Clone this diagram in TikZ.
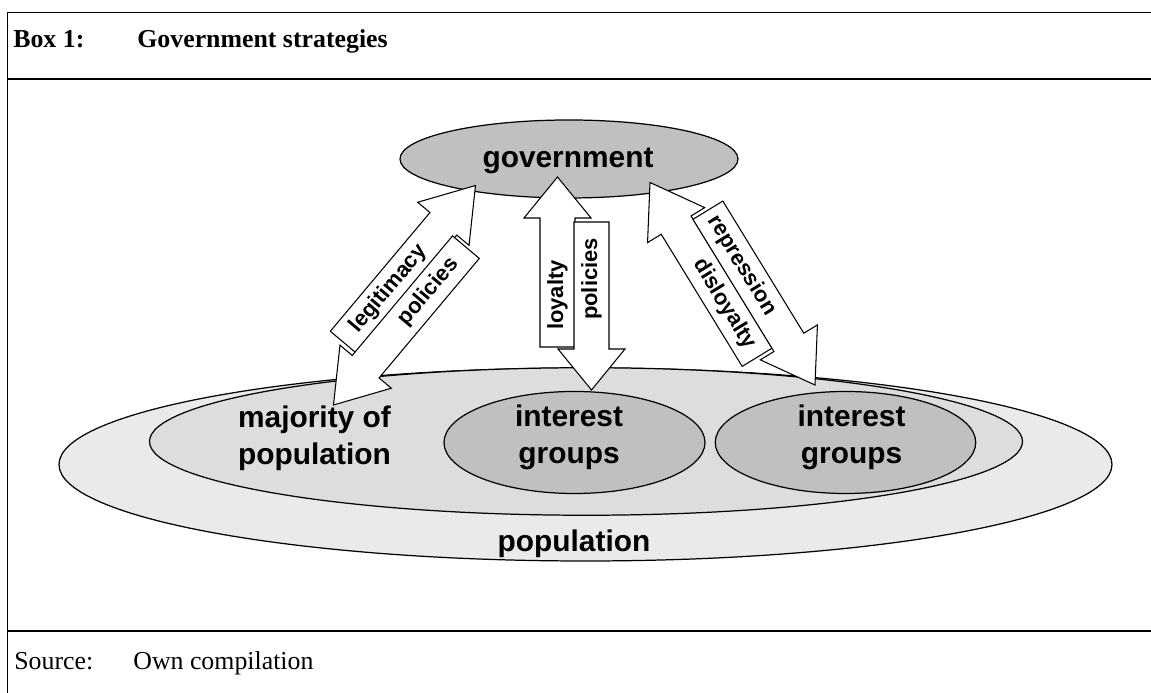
\documentclass[tikz,border=0pt]{standalone}
\usepackage{fontspec}
\setmainfont{Liberation Serif}
\setsansfont{Liberation Sans}
\usetikzlibrary{shapes.geometric}

\definecolor{popgray}{RGB}{234,234,234}
\definecolor{majgray}{RGB}{221,221,221}
\definecolor{grpgray}{RGB}{192,192,192}

\tikzset{
  frameline/.style={line width=1.1pt},
  blob/.style={draw,ellipse,inner sep=0pt,line width=0.7pt},
  bigtext/.style={font=\sffamily\bfseries\fontsize{17}{20.9}\selectfont,align=center,inner sep=0pt},
  blockarrow/.style={draw,fill=white,line width=0.6pt},
  arrowlabel/.style={font=\sffamily\bfseries\fontsize{12.5}{15}\selectfont,inner sep=0pt},
  boxtext/.style={font=\fontsize{14.7}{17}\selectfont,anchor=base west,inner sep=0pt}
}

% fat arrow: name, tip, direction, length, head length, label distance, label angle, text
\newcommand{\blockarrow}[8]{%
  \begin{scope}[shift={#2},rotate=#3]
    \draw[blockarrow] (0,0) -- (-#5,0.67) -- (-#5,0.35) -- (-#4,0.35)
      -- (-#4,-0.35) -- (-#5,-0.35) -- (-#5,-0.67) -- cycle;
    \node[arrowlabel,rotate=#7] (#1) at (-#6,0) {#8};
  \end{scope}}

\begin{document}
\begin{tikzpicture}
  \useasboundingbox (0,0) rectangle (23.02,13.86);

  % box frame
  \draw[frameline] (0.15,0) -- (0.15,13.61) -- (23.02,13.61);
  \draw[frameline] (0.15,12.28) -- (23.02,12.28);
  \draw[frameline] (0.15,1.24) -- (23.02,1.24);
  \node[boxtext,font=\bfseries\fontsize{14.7}{17}\selectfont] (boxno) at (0.26,12.91) {Box 1:};
  \node[boxtext,font=\bfseries\fontsize{14.7}{17}\selectfont] (boxtitle) at (2.74,12.91) {Government strategies};
  \node[boxtext] (srclabel) at (0.28,0.46) {Source:};
  \node[boxtext] (srctext) at (2.66,0.46) {Own compilation};

  % population and its parts
  \node[blob,fill=popgray,minimum width=21.06cm,minimum height=3.86cm] (pop) at (11.71,4.57) {};
  \node[blob,fill=majgray,minimum width=17.46cm,minimum height=2.95cm] (maj) at (11.72,5.03) {};
  \node[blob,fill=grpgray,minimum width=5.22cm,minimum height=2.04cm] (grpA) at (11.49,5.01) {};
  \node[blob,fill=grpgray,minimum width=5.21cm,minimum height=2.04cm] (grpB) at (16.91,5.01) {};
  \node[blob,fill=grpgray,minimum width=6.76cm,minimum height=1.56cm] (gov) at (11.38,10.68) {};

  \node[bigtext,anchor=base] (govlabel) at (11.36,10.5) {government};
  \node[bigtext] (majlabel) at (6.29,5.09) {majority of\\population};
  \node[bigtext] (grpAlabel) at (11.38,5.12) {interest\\groups};
  \node[bigtext] (grpBlabel) at (17.03,5.12) {interest\\groups};
  \node[bigtext,anchor=base] (poplabel) at (11.48,2.83) {population};

  % strategies
  \blockarrow{legit}{(9.51,10.15)}{50}{4.1}{1.0}{2.7}{50}{legitimacy}
  \blockarrow{polA}{(6.67,5.76)}{230}{4.12}{1.0}{2.95}{50}{policies}
  \blockarrow{loyal}{(11.15,10.32)}{90}{3.4}{0.82}{2.36}{90}{loyalty}
  \blockarrow{polB}{(11.83,6.06)}{270}{3.36}{0.82}{2.22}{90}{policies}
  \blockarrow{disloyal}{(13.0,10.21)}{121.5}{4.1}{1.0}{2.85}{-58.5}{disloyalty}
  \blockarrow{repress}{(16.3,6.16)}{-58.5}{4.1}{1.0}{2.8}{-58.5}{repression}
\end{tikzpicture}
\end{document}
